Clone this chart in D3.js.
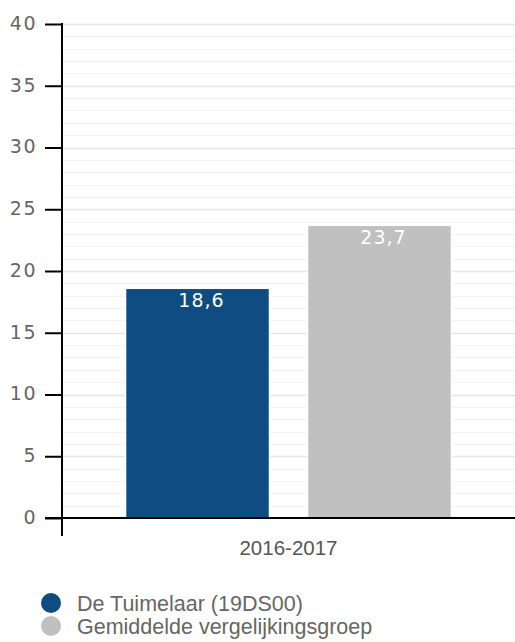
<!DOCTYPE html>
<html>
<head>
<meta charset="utf-8">
<script src="https://cdn.jsdelivr.net/npm/d3@7/dist/d3.min.js"></script>
<style>
  html, body { margin: 0; padding: 0; background: #fff; }
  svg { display: block; }
</style>
</head>
<body>
<svg id="chart" width="515" height="642"></svg>
<script>
// Data
const categories = ["2016-2017"];
const seriesNames = ["De Tuimelaar (19DS00)", "Gemiddelde vergelijkingsgroep"];
const seriesColors = ["#0f4c81", "#c0c0c0"];
const seriesValues = [[18.6], [23.7]];
const yTicks = [0, 5, 10, 15, 20, 25, 30, 35, 40];

const svg = d3.select("#chart");
const W = 515;
const plotLeft = 62, plotTop = 24, plotBottom = 518, plotRight = W;

const y = d3.scaleLinear().domain([0, 40]).range([plotBottom, plotTop]);
const x0 = d3.scaleBand().domain(categories).range([plotLeft, plotRight]).paddingOuter(0.195).paddingInner(0);
const x1 = d3.scaleBand().domain(d3.range(seriesNames.length))
  .range([0, x0.bandwidth()]).paddingInner(0.209).paddingOuter(0);

// Gridlines: minor every unit, major every 5
const minor = d3.range(1, 40).filter(v => v % 5 !== 0);
svg.append("g").selectAll("line").data(minor).join("line")
  .attr("x1", plotLeft + 1).attr("x2", plotRight)
  .attr("y1", d => Math.round(y(d)) + 0.5).attr("y2", d => Math.round(y(d)) + 0.5)
  .attr("stroke", "#f2f2f2").attr("stroke-width", 1);
svg.append("g").selectAll("line").data(yTicks.filter(v => v > 0)).join("line")
  .attr("x1", plotLeft + 1).attr("x2", plotRight)
  .attr("y1", d => Math.round(y(d)) + 0.5).attr("y2", d => Math.round(y(d)) + 0.5)
  .attr("stroke", "#e6e6e6").attr("stroke-width", 1.5);

// Bars
const groups = svg.append("g").selectAll("g").data(categories).join("g")
  .attr("transform", c => `translate(${x0(c)},0)`);
seriesNames.forEach((name, si) => {
  groups.append("rect")
    .attr("x", ci => x1(si))
    .attr("y", (c, ci) => y(seriesValues[si][ci]))
    .attr("width", x1.bandwidth())
    .attr("height", (c, ci) => y(0) - y(seriesValues[si][ci]))
    .attr("fill", seriesColors[si])
    .attr("stroke", "#fff").attr("stroke-width", 1.5);
  groups.append("text")
    .attr("x", x1(si) + x1.bandwidth() / 2)
    .attr("dx", 4)
    .attr("y", (c, ci) => y(seriesValues[si][ci]) + 19)
    .attr("text-anchor", "middle")
    .attr("fill", "#fff")
    .attr("font-family", "DejaVu Sans, Verdana, sans-serif")
    .attr("font-size", 19)
    .attr("letter-spacing", 1)
    .text((c, ci) => String(seriesValues[si][ci]).replace(".", ","));
});

// Y axis
const yAxis = d3.axisLeft(y).tickValues(yTicks).tickSize(17).tickPadding(8).tickFormat(d => d);
const gy = svg.append("g").attr("transform", `translate(${plotLeft},0)`).call(yAxis);
gy.select(".domain").remove();
gy.selectAll(".tick line").attr("stroke", "#000").attr("stroke-width", 2);
gy.selectAll(".tick text")
  .attr("fill", "#666")
  .attr("font-family", "DejaVu Sans, Verdana, sans-serif")
  .attr("font-size", 19)
  .attr("letter-spacing", 1.5)
  .attr("dy", "0.28em");
svg.append("line")
  .attr("x1", plotLeft).attr("x2", plotLeft).attr("y1", plotTop - 1).attr("y2", 536)
  .attr("stroke", "#000").attr("stroke-width", 2);

// X axis
svg.append("line")
  .attr("x1", 45).attr("x2", plotRight).attr("y1", plotBottom).attr("y2", plotBottom)
  .attr("stroke", "#000").attr("stroke-width", 2);
svg.append("g").selectAll("text").data(categories).join("text")
  .attr("x", c => x0(c) + x0.bandwidth() / 2)
  .attr("y", 555)
  .attr("text-anchor", "middle")
  .attr("fill", "#555")
  .attr("font-family", "Liberation Sans, Arial, sans-serif")
  .attr("font-size", 20.5)
  .text(c => c);

// Legend
const legend = svg.append("g").selectAll("g").data(seriesNames).join("g")
  .attr("transform", (d, i) => `translate(51,${603 + i * 23})`);
legend.append("circle").attr("r", 10).attr("fill", (d, i) => seriesColors[i]);
legend.append("text")
  .attr("x", 26).attr("y", 8)
  .attr("fill", "#666")
  .attr("font-family", "Liberation Sans, Arial, sans-serif")
  .attr("font-size", 21.5)
  .text(d => d);
</script>
</body>
</html>
